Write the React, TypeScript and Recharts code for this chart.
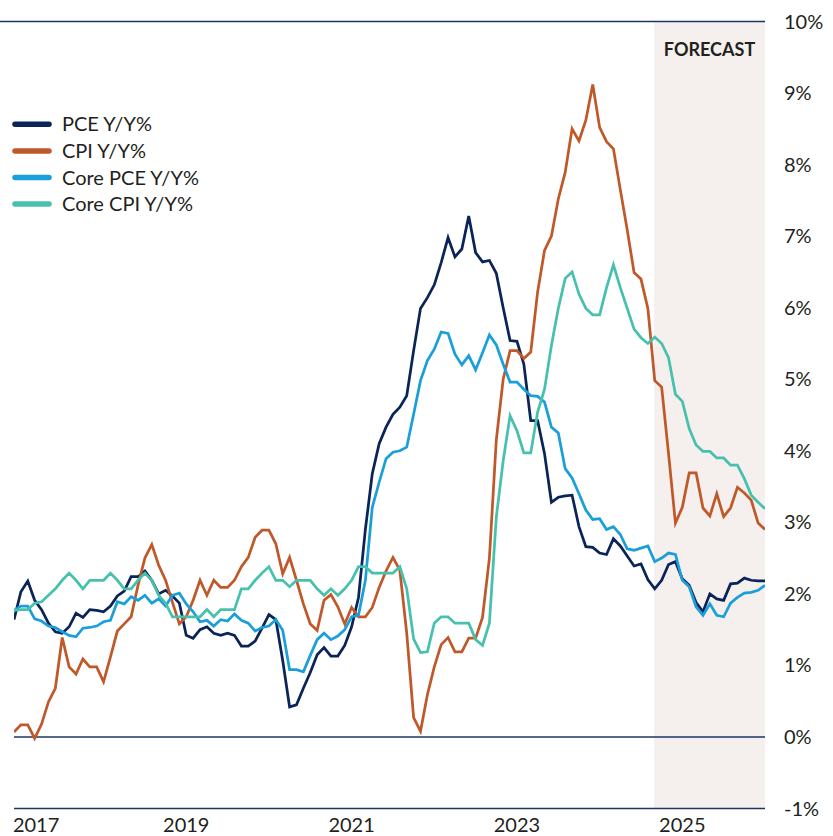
import React from 'react';
import { LineChart, Line, XAxis, YAxis, ReferenceLine, ReferenceArea, Legend } from 'recharts';

// Monthly index: 0 = Dec 2016 ... 109 = Jan 2026
const monthIndex = Array.from({ length: 110 }, (_, i) => i);

const pce = [
  1.64, 2.03, 2.18, 1.91, 1.78, 1.59, 1.47, 1.45, 1.54, 1.73,
  1.67, 1.78, 1.77, 1.75, 1.83, 1.97, 2.04, 2.24, 2.24, 2.32,
  2.19, 2.0, 2.05, 1.97, 1.87, 1.42, 1.38, 1.5, 1.54, 1.45,
  1.42, 1.45, 1.42, 1.27, 1.27, 1.34, 1.52, 1.71, 1.64, 1.07,
  0.42, 0.45, 0.68, 0.9, 1.15, 1.25, 1.13, 1.13, 1.28, 1.54,
  1.95, 2.9, 3.68, 4.1, 4.33, 4.51, 4.61, 4.77, 5.4, 5.99,
  6.14, 6.32, 6.63, 6.98, 6.71, 6.82, 7.28, 6.77, 6.64, 6.66,
  6.48, 6.0, 5.54, 5.53, 5.21, 4.42, 4.42, 3.96, 3.28, 3.35,
  3.37, 3.38, 2.94, 2.66, 2.65, 2.57, 2.55, 2.77, 2.67, 2.53,
  2.39, 2.42, 2.2, 2.07, 2.19, 2.41, 2.45, 2.21, 2.12, 1.88,
  1.75, 2.0, 1.93, 1.91, 2.14, 2.15, 2.22, 2.19, 2.18, 2.18,
];

const cpi = [
  0.07, 0.17, 0.17, -0.02, 0.18, 0.49, 0.68, 1.39, 0.98, 0.88,
  1.09, 0.98, 0.98, 0.77, 1.12, 1.48, 1.58, 1.68, 2.12, 2.5,
  2.69, 2.4, 2.19, 1.88, 1.58, 1.68, 1.91, 2.19, 1.98, 2.19,
  2.09, 2.09, 2.19, 2.38, 2.51, 2.79, 2.89, 2.89, 2.7, 2.28,
  2.51, 2.19, 1.86, 1.58, 1.49, 1.91, 1.99, 1.82, 1.58, 1.81,
  1.68, 1.68, 1.81, 2.09, 2.32, 2.51, 2.33, 1.45, 0.27, 0.08,
  0.59, 0.98, 1.29, 1.39, 1.19, 1.19, 1.38, 1.38, 1.67, 2.5,
  4.15, 5.0, 5.4, 5.4, 5.29, 5.38, 6.22, 6.8, 7.0, 7.52,
  7.89, 8.5, 8.33, 8.62, 9.12, 8.52, 8.32, 8.22, 7.65, 7.09,
  6.49, 6.4, 5.99, 4.98, 4.89, 3.96, 2.99, 3.21, 3.69, 3.69,
  3.2, 3.09, 3.4, 3.08, 3.2, 3.49, 3.41, 3.31, 2.99, 2.9,
];

const corePce = [
  1.77, 1.83, 1.83, 1.65, 1.62, 1.55, 1.53, 1.47, 1.42, 1.4,
  1.52, 1.53, 1.55, 1.61, 1.63, 1.89, 1.86, 1.96, 1.91, 1.98,
  1.87, 1.93, 1.83, 1.98, 2.01, 1.86, 1.75, 1.61, 1.63, 1.55,
  1.64, 1.62, 1.72, 1.63, 1.59, 1.48, 1.53, 1.55, 1.64, 1.49,
  0.94, 0.94, 0.91, 1.14, 1.36, 1.45, 1.36, 1.41, 1.5, 1.68,
  1.7, 2.19, 3.21, 3.56, 3.89, 3.98, 4.0, 4.05, 4.51, 4.98,
  5.26, 5.42, 5.66, 5.64, 5.35, 5.2, 5.33, 5.13, 5.37, 5.62,
  5.48, 5.21, 4.96, 4.96, 4.86, 4.77, 4.76, 4.68, 4.33, 4.25,
  3.75, 3.62, 3.4, 3.17, 3.04, 3.05, 2.9, 2.94, 2.83, 2.63,
  2.61, 2.64, 2.67, 2.45, 2.5, 2.57, 2.55, 2.19, 2.1, 1.82,
  1.7, 1.86, 1.7, 1.68, 1.87, 1.95, 2.01, 2.02, 2.05, 2.12,
];

const coreCpi = [
  1.77, 1.78, 1.78, 1.87, 1.89, 1.98, 2.07, 2.19, 2.29, 2.19,
  2.07, 2.19, 2.19, 2.19, 2.29, 2.19, 2.07, 2.07, 2.19, 2.29,
  2.19, 1.98, 1.87, 1.68, 1.68, 1.68, 1.68, 1.68, 1.78, 1.68,
  1.78, 1.78, 1.78, 2.07, 2.07, 2.19, 2.29, 2.38, 2.19, 2.19,
  2.1, 2.19, 2.19, 2.19, 2.07, 1.98, 2.07, 1.98, 2.07, 2.19,
  2.38, 2.38, 2.29, 2.29, 2.29, 2.29, 2.38, 2.07, 1.37, 1.18,
  1.19, 1.59, 1.68, 1.68, 1.59, 1.59, 1.59, 1.36, 1.28, 1.59,
  3.07, 3.86, 4.49, 4.28, 3.97, 3.97, 4.54, 4.86, 5.47, 5.99,
  6.41, 6.5, 6.19, 5.99, 5.9, 5.9, 6.28, 6.6, 6.28, 5.99,
  5.7, 5.58, 5.5, 5.59, 5.5, 5.3, 4.79, 4.69, 4.31, 4.08,
  3.99, 3.99, 3.9, 3.9, 3.8, 3.8, 3.61, 3.38, 3.28, 3.19,
];

const xTickPositions = [1, 25, 49, 73, 97];
const xTickLabels = ['2017', '2019', '2021', '2023', '2025'];
const yTicks = [-1, 0, 1, 2, 3, 4, 5, 6, 7, 8, 9, 10];
const forecastStart = 92.9;
const forecastEnd = 109;
const forecastLabel = 'FORECAST';

const seriesMeta = [
  { key: 'pce', name: 'PCE Y/Y%', color: '#0b2458' },
  { key: 'cpi', name: 'CPI Y/Y%', color: '#c0592a' },
  { key: 'corePce', name: 'Core PCE Y/Y%', color: '#1a9fd9' },
  { key: 'coreCpi', name: 'Core CPI Y/Y%', color: '#47c1ad' },
];

const data = monthIndex.map((m, i) => ({
  m,
  pce: pce[i],
  cpi: cpi[i],
  corePce: corePce[i],
  coreCpi: coreCpi[i],
}));

const FONT = 'Lato, "Noto Sans", sans-serif';
const TEXT = '#231f20';
const RULE = '#1d3466';

const LegendContent = () => (
  <svg width={230} height={110} style={{ display: 'block' }}>
    {seriesMeta.map((s, k) => (
      <g key={s.key}>
        <line
          x1={15}
          x2={49}
          y1={12.3 + 26.6 * k}
          y2={12.3 + 26.6 * k}
          stroke={s.color}
          strokeWidth={5.5}
          strokeLinecap="round"
        />
        <text x={62} y={19.3 + 26.6 * k} fontSize={20} fill={TEXT} fontFamily={FONT}>
          {s.name}
        </text>
      </g>
    ))}
  </svg>
);

const XTick = (props: any) => {
  const { x, y, payload, index } = props;
  const idx = xTickPositions.indexOf(payload.value);
  const label = idx >= 0 ? xTickLabels[idx] : '';
  const first = index === 0;
  return (
    <text
      x={first ? x - 8 : x}
      y={y + 15.5}
      textAnchor={first ? 'start' : 'middle'}
      fontSize={20}
      fill={TEXT}
      fontFamily={FONT}
    >
      {label}
    </text>
  );
};

const YTick = (props: any) => {
  const { x, y, payload } = props;
  return (
    <text x={x} y={y + 7} textAnchor="start" fontSize={20} fill={TEXT} fontFamily={FONT}>
      {`${payload.value}%`}
    </text>
  );
};

export default function App() {
  return (
    <div style={{ width: 833, height: 836, fontFamily: FONT, background: '#ffffff' }}>
      <style>{`body{margin:0;overflow:hidden;}`}</style>
      <LineChart
        width={833}
        height={836}
        data={data}
        margin={{ top: 21.5, right: 0, bottom: 0, left: 14 }}
      >
        <ReferenceArea
          x1={forecastStart}
          x2={forecastEnd}
          y1={-1}
          y2={10}
          fill="#f5f0ee"
          fillOpacity={1}
          stroke="none"
          ifOverflow="visible"
          label={{
            value: forecastLabel,
            position: 'insideTop',
            offset: 21.7,
            fill: TEXT,
            fontSize: 18,
            fontWeight: 700,
            fontFamily: FONT,
          }}
        />
        <XAxis
          dataKey="m"
          type="number"
          domain={[0, 109]}
          ticks={xTickPositions}
          interval={0}
          tick={<XTick />}
          tickLine={false}
          axisLine={{ stroke: RULE, strokeWidth: 1.5 }}
          height={27.5}
          allowDataOverflow
        />
        <YAxis
          orientation="right"
          domain={[-1, 10]}
          ticks={yTicks}
          interval={0}
          tick={<YTick />}
          tickLine={false}
          axisLine={false}
          width={68}
          tickMargin={13}
          allowDataOverflow
        />
        <ReferenceLine
          segment={[{ x: -2.03, y: 10 }, { x: 109, y: 10 }]}
          stroke={RULE}
          strokeWidth={1.5}
          ifOverflow="visible"
        />
        <ReferenceLine y={0} stroke={RULE} strokeWidth={1.5} />
        {seriesMeta.map((s) => (
          <Line
            key={s.key}
            type="linear"
            dataKey={s.key}
            name={s.name}
            stroke={s.color}
            strokeWidth={2.75}
            dot={false}
            activeDot={false}
            isAnimationActive={false}
          />
        ))}
        <Legend
          content={<LegendContent />}
          layout="vertical"
          align="center"
          verticalAlign="middle"
          wrapperStyle={{ top: 112, left: 0, width: 230, height: 110 }}
        />
      </LineChart>
    </div>
  );
}
